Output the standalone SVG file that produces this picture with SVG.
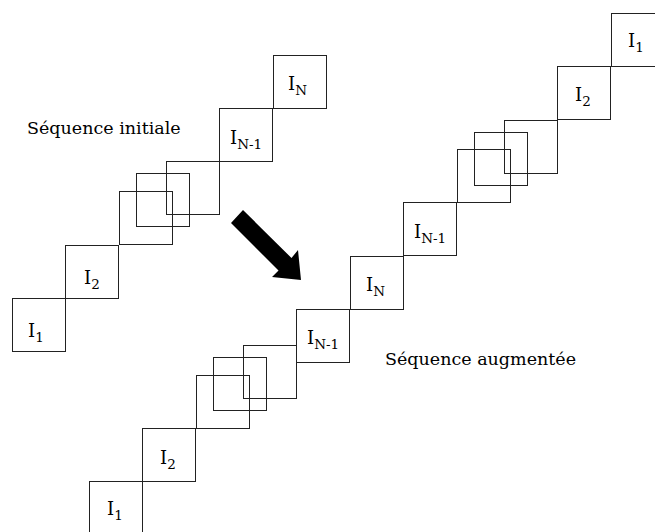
<svg xmlns="http://www.w3.org/2000/svg" width="655" height="532" viewBox="0 0 655 532">
<style>
.box{fill:none;stroke:#222;stroke-width:1}
text{font-family:'DejaVu Serif',serif;fill:#000}
.lbl{font-size:18px}
.sub{font-size:13.5px}
.cap{font-size:17.5px}
</style>
<rect width="655" height="532" fill="#fff"/>
<g id="left-sequence">
<g id="L1"><rect class="box" x="12.5" y="298.5" width="53" height="53"/><text class="lbl" x="28" y="337">I<tspan class="sub" dy="4.5">1</tspan></text></g>
<g id="L2"><rect class="box" x="65.5" y="245.5" width="53" height="53"/><text class="lbl" x="84" y="284">I<tspan class="sub" dy="4.5">2</tspan></text></g>
<g id="L3"><rect class="box" x="119.5" y="191.5" width="53" height="53"/></g>
<g id="Lm"><rect class="box" x="136.5" y="173.5" width="53" height="53"/></g>
<g id="L4"><rect class="box" x="166.5" y="161.5" width="53" height="53"/></g>
<g id="LN1"><rect class="box" x="219.5" y="108.5" width="53" height="53"/><text class="lbl" x="230" y="144">I<tspan class="sub" dy="4.5">N-1</tspan></text></g>
<g id="LN"><rect class="box" x="273.5" y="55.5" width="53" height="53"/><text class="lbl" x="288" y="90">I<tspan class="sub" dy="4.5">N</tspan></text></g>
</g>
<text id="caption-initiale" class="cap" x="27" y="134">Séquence initiale</text>
<g id="arrow"><polygon points="231,223 243,210 291.5,258 298,250 301,280 272,277 278.5,270.5" fill="#000"/></g>
<g id="right-sequence">
<g id="R1"><rect class="box" x="611.5" y="13.5" width="53" height="53"/><text class="lbl" x="628" y="47">I<tspan class="sub" dy="4.5">1</tspan></text></g>
<g id="R2"><rect class="box" x="557.5" y="66.5" width="53" height="53"/><text class="lbl" x="575" y="101">I<tspan class="sub" dy="4.5">2</tspan></text></g>
<g id="R3"><rect class="box" x="504.5" y="120.5" width="53" height="53"/></g>
<g id="Rm"><rect class="box" x="474.5" y="132.5" width="53" height="53"/></g>
<g id="R4"><rect class="box" x="457.5" y="149.5" width="53" height="53"/></g>
<g id="RN1"><rect class="box" x="403.5" y="202.5" width="53" height="53"/><text class="lbl" x="414" y="238">I<tspan class="sub" dy="4.5">N-1</tspan></text></g>
<g id="RN"><rect class="box" x="350.5" y="256.5" width="53" height="53"/><text class="lbl" x="366" y="291">I<tspan class="sub" dy="4.5">N</tspan></text></g>
<g id="RN1b"><rect class="box" x="296.5" y="309.5" width="53" height="53"/><text class="lbl" x="307" y="344">I<tspan class="sub" dy="4.5">N-1</tspan></text></g>
<g id="R5"><rect class="box" x="243.5" y="345.5" width="53" height="53"/></g>
<g id="Rm2"><rect class="box" x="213.5" y="357.5" width="53" height="53"/></g>
<g id="R6"><rect class="box" x="196.5" y="375.5" width="53" height="53"/></g>
<g id="R2b"><rect class="box" x="142.5" y="428.5" width="53" height="53"/><text class="lbl" x="160" y="464">I<tspan class="sub" dy="4.5">2</tspan></text></g>
<g id="R1b"><rect class="box" x="89.5" y="481.5" width="53" height="53"/><text class="lbl" x="107" y="515">I<tspan class="sub" dy="4.5">1</tspan></text></g>
</g>
<text id="caption-augmentee" class="cap" x="385" y="365">Séquence augmentée</text>
</svg>
